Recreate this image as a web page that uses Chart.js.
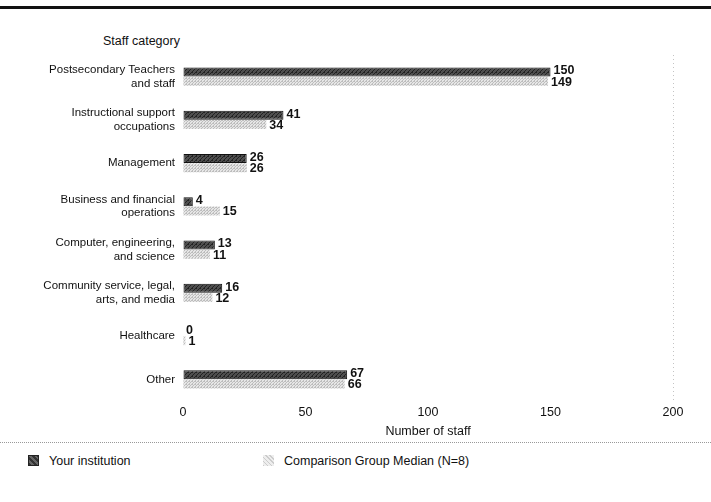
<!DOCTYPE html>
<html>
<head>
<meta charset="utf-8">
<script src="https://cdn.jsdelivr.net/npm/chart.js@4.4.0/dist/chart.umd.min.js"></script>
<style>
  body { margin: 0; background: #fff; font-family: 'Liberation Sans', Arial, sans-serif; }
  #wrap { position: relative; width: 711px; height: 502px; overflow: hidden; }
  #topline { position: absolute; left: 0; top: 6px; width: 711px; height: 3px; background: #111; }
  #ytitle { position: absolute; left: 103px; top: 34px; font-size: 12.5px; color: #111; }
  #chartbox { position: absolute; left: 0; top: 0; width: 711px; height: 440px; }
  #sep { position: absolute; left: 0; top: 442px; width: 711px; border-top: 1px dotted #999; }
  .leg { position: absolute; top: 454px; font-size: 12.5px; color: #111; line-height: 14px; }
  .sw { display: inline-block; width: 11px; height: 11px; vertical-align: -1px; margin-right: 10px; }
  #sw1 { background: repeating-linear-gradient(45deg, #333 0 2px, #666 2px 4px); border: 1px solid #222; width: 9px; height: 9px; }
  #sw2 { background: repeating-linear-gradient(45deg, #ccc 0 1px, #eee 1px 3px); }
</style>
</head>
<body>
<div id="wrap">
  <div id="topline"></div>
  <div id="ytitle">Staff category</div>
  <div id="chartbox"><canvas id="c" width="711" height="440"></canvas></div>
  <div id="sep"></div>
  <div class="leg" style="left:28px"><span class="sw" id="sw1"></span>Your institution</div>
  <div class="leg" style="left:263px"><span class="sw" id="sw2"></span>Comparison Group Median (N=8)</div>
</div>
<script>
// Data
const categories = [
  ['Postsecondary Teachers', 'and staff'],
  ['Instructional support', 'occupations'],
  'Management',
  ['Business and financial', 'operations'],
  ['Computer, engineering,', 'and science'],
  ['Community service, legal,', 'arts, and media'],
  'Healthcare',
  'Other',
];
const yourInstitution = [150, 41, 26, 4, 13, 16, 0, 67];
const comparisonMedian = [149, 34, 26, 15, 11, 12, 1, 66];
const xTicks = [0, 50, 100, 150, 200];

// small textured fills to mimic the printed hatching
function makePattern(bg, fg, step) {
  const p = document.createElement('canvas');
  p.width = step; p.height = step;
  const g = p.getContext('2d');
  g.fillStyle = bg; g.fillRect(0, 0, step, step);
  g.fillStyle = fg;
  for (let i = 0; i < step; i++) g.fillRect(i, step - 1 - i, 1, 1);
  g.fillRect(0, 0, 1, 1);
  return g.createPattern(p, 'repeat');
}
const ctx = document.getElementById('c').getContext('2d');
const darkFill = makePattern('#4e4e4e', '#222', 4);
const lightFill = makePattern('#e6e6e6', '#bdbdbd', 3);

// value labels at bar ends
const valueLabels = {
  id: 'valueLabels',
  afterDatasetsDraw(chart) {
    const c = chart.ctx;
    c.save();
    c.font = 'bold 12.5px "Liberation Sans", Arial, sans-serif';
    c.fillStyle = '#111';
    c.textBaseline = 'middle';
    chart.data.datasets.forEach((ds, di) => {
      chart.getDatasetMeta(di).data.forEach((bar, i) => {
        c.fillText(String(ds.data[i]), bar.x + 3, bar.y + (di === 0 ? -1 : 1));
      });
    });
    c.restore();
  },
};

new Chart(ctx, {
  type: 'bar',
  data: {
    labels: categories,
    datasets: [
      {
        label: 'Your institution',
        data: yourInstitution,
        backgroundColor: darkFill,
        borderColor: '#111',
        borderWidth: 1,
        borderSkipped: false,
        categoryPercentage: 0.43,
        barPercentage: 0.95,
      },
      {
        label: 'Comparison Group Median (N=8)',
        data: comparisonMedian,
        backgroundColor: lightFill,
        borderWidth: 0,
        categoryPercentage: 0.43,
        barPercentage: 0.95,
      },
    ],
  },
  options: {
    indexAxis: 'y',
    responsive: false,
    animation: false,
    layout: { padding: { top: 55, right: 38, bottom: 1, left: 0 } },
    plugins: { legend: { display: false }, tooltip: { enabled: false } },
    scales: {
      x: {
        min: 0,
        max: 200,
        afterBuildTicks: (s) => { s.ticks = xTicks.map(v => ({ value: v })); },
        border: { display: false, dash: [1, 3] },
        grid: {
          drawTicks: false,
          color: (c) => (c.tick && c.tick.value === 200 ? '#c4c4c4' : 'rgba(0,0,0,0)'),
        },
        ticks: { color: '#111', padding: 4, font: { family: '"Liberation Sans", Arial, sans-serif', size: 12.5 } },
        title: {
          display: true,
          text: 'Number of staff',
          color: '#111',
          padding: { top: 0, bottom: 0 },
          font: { family: '"Liberation Sans", Arial, sans-serif', size: 12.5 },
        },
      },
      y: {
        border: { display: false },
        grid: { display: false, drawTicks: false },
        afterFit: (s) => { s.width = 183; },
        ticks: { color: '#111', padding: 8, font: { family: '"Liberation Sans", Arial, sans-serif', size: 11.5 } },
      },
    },
  },
  plugins: [valueLabels],
});
</script>
</body>
</html>
